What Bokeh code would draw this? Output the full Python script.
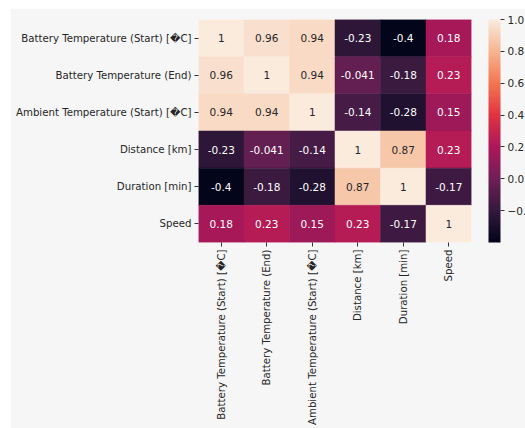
import math
from bokeh.plotting import figure
from bokeh.layouts import column, row
from bokeh.models import (ColumnDataSource, LinearColorMapper, ColorBar, FixedTicker,
                          CustomJSTickFormatter, Spacer)
from bokeh.core.properties import value
from bokeh.embed import file_html
from bokeh.resources import INLINE

labels = [
    "Battery Temperature (Start) [\ufffdC]",
    "Battery Temperature (End)",
    "Ambient Temperature (Start) [\ufffdC]",
    "Distance [km]",
    "Duration [min]",
    "Speed",
]
row_bt_start = [1, 0.96, 0.94, -0.23, -0.4, 0.18]
row_bt_end = [0.96, 1, 0.94, -0.041, -0.18, 0.23]
row_ambient = [0.94, 0.94, 1, -0.14, -0.28, 0.15]
row_distance = [-0.23, -0.041, -0.14, 1, 0.87, 0.23]
row_duration = [-0.4, -0.18, -0.28, 0.87, 1, -0.17]
row_speed = [0.18, 0.23, 0.15, 0.23, -0.17, 1]
rows = [row_bt_start, row_bt_end, row_ambient, row_distance, row_duration, row_speed]
cbar_ticks = [-0.2, 0.0, 0.2, 0.4, 0.6, 0.8, 1.0]
vmin, vmax = -0.4, 1.0

# seaborn "rocket" colormap anchors
anchors = ["#03051a", "#35193e", "#701f57", "#ad1759", "#e13342", "#f37651", "#f6b48f", "#faebdd"]

def hex2rgb(h):
    return tuple(int(h[i:i + 2], 16) for i in (1, 3, 5))

argb = [hex2rgb(h) for h in anchors]
palette = []
n = 256
for i in range(n):
    t = i / (n - 1) * (len(argb) - 1)
    k = min(int(t), len(argb) - 2)
    f = t - k
    c = [round(argb[k][j] + (argb[k + 1][j] - argb[k][j]) * f) for j in range(3)]
    palette.append("#%02x%02x%02x" % tuple(c))

def cmap(v):
    idx = int((v - vmin) / (vmax - vmin) * (n - 1) + 0.5)
    return palette[max(0, min(n - 1, idx))]

def lum(h):
    r, g, b = [x / 255 for x in hex2rgb(h)]
    def lin(c):
        return c / 12.92 if c <= 0.03928 else ((c + 0.055) / 1.055) ** 2.4
    return 0.2126 * lin(r) + 0.7152 * lin(g) + 0.0722 * lin(b)

xs, ys, vals, colors, texts, tcolors = [], [], [], [], [], []
for r, rw in enumerate(rows):
    for c, v in enumerate(rw):
        xs.append(labels[c])
        ys.append(labels[r])
        vals.append(v)
        col = cmap(v)
        colors.append(col)
        texts.append(format(v, ".2g"))
        tcolors.append("#262626" if lum(col) > 0.408 else "#ffffff")

src = ColumnDataSource(dict(x=xs, y=ys, v=vals, color=colors, text=texts, tcolor=tcolors))

BG = "#f6f6f6"
p = figure(x_range=labels, y_range=list(reversed(labels)),
           frame_width=273, frame_height=223,
           min_border_left=188, min_border_right=54, min_border_top=11, min_border_bottom=186,
           output_backend="svg", toolbar_location=None)
p.border_fill_color = BG
p.background_fill_color = BG
p.outline_line_color = None
p.grid.grid_line_color = None

p.rect(x="x", y="y", width=1, height=1, source=src, fill_color="color", line_color="color", line_width=0.5)
p.text(x="x", y="y", text="text", source=src, text_color="tcolor", text_align="center",
       text_baseline="middle", text_font=value("DejaVu Sans"), text_font_size="10.5px")

for ax in (p.xaxis[0], p.yaxis[0]):
    ax.axis_line_color = None
    ax.major_tick_in = 0
    ax.major_tick_out = 4
    ax.major_tick_line_color = "#333333"
    ax.major_label_text_font = "DejaVu Sans"
    ax.major_label_text_font_size = "10.2px"
    ax.major_label_text_font_style = "normal"
    ax.major_label_text_color = "#262626"
    ax.major_label_standoff = 3
p.xaxis.major_label_orientation = math.pi / 2

mapper = LinearColorMapper(palette=palette, low=vmin, high=vmax)
cb = ColorBar(color_mapper=mapper, width=12, height=223, padding=0, location=(290, 0),
              ticker=FixedTicker(ticks=cbar_ticks),
              formatter=CustomJSTickFormatter(code="return tick.toFixed(1).replace('-', '\u2212');"),
              major_tick_in=0, major_tick_out=4, major_tick_line_color="#333333",
              minor_tick_line_color=None, bar_line_color=None, border_line_color=None,
              background_fill_color=None, background_fill_alpha=0, label_standoff=3,
              major_label_text_font="DejaVu Sans", major_label_text_font_size="10.5px",
              major_label_text_color="#262626")
p.add_layout(cb, "center")

layout = column(Spacer(height=8), row(Spacer(width=10), p))
open("out.html", "w").write(file_html(layout, INLINE))
